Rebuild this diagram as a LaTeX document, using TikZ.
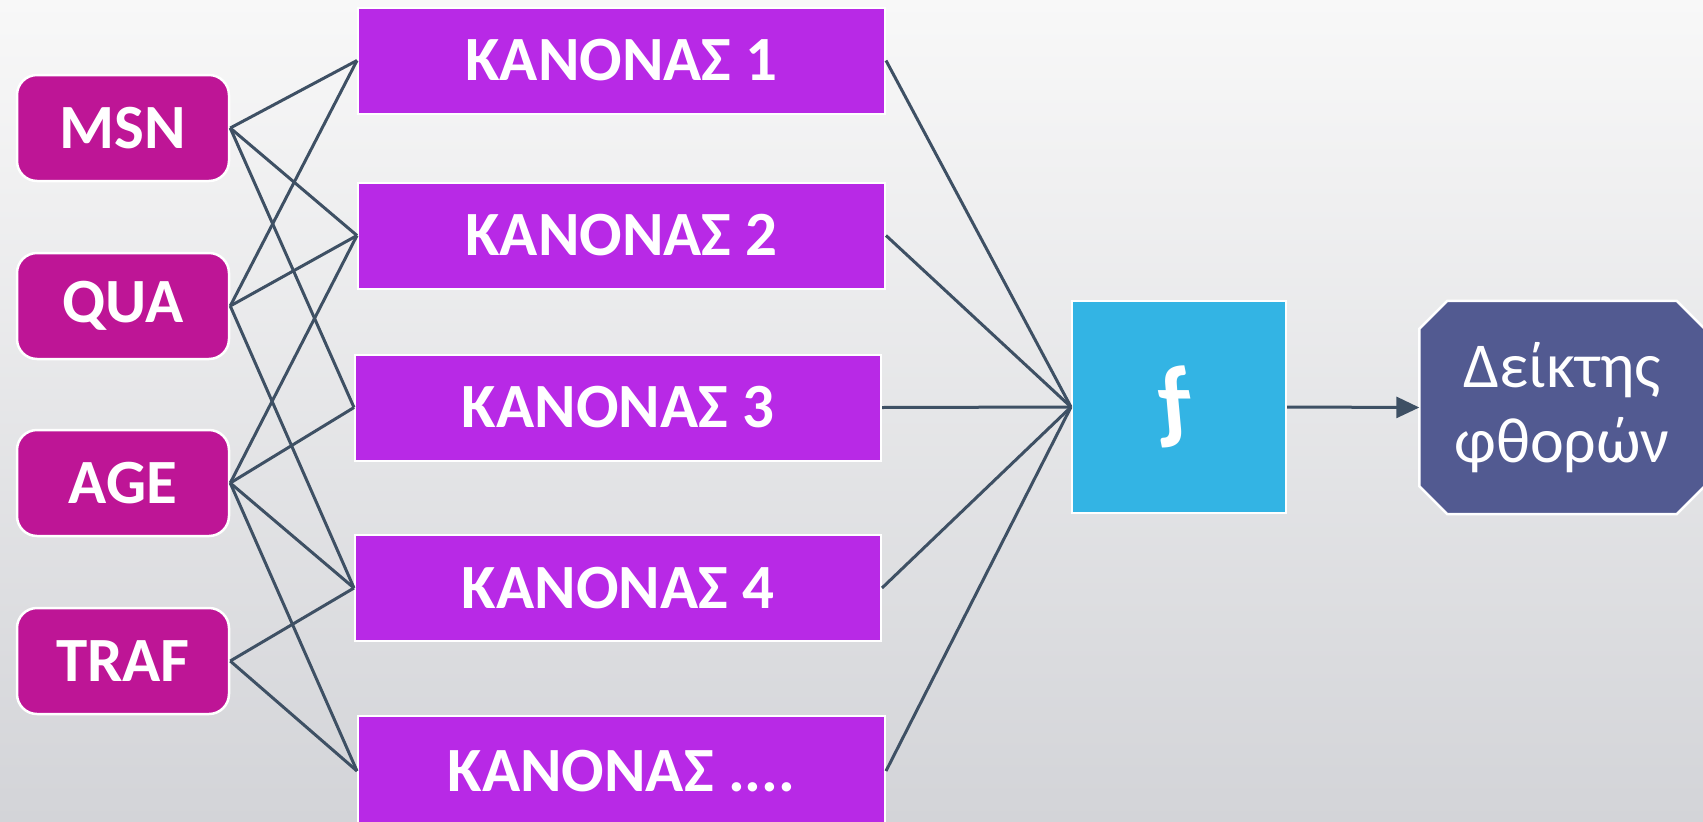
\documentclass[tikz,border=0pt]{standalone}
\usepackage{fontspec}
\setmainfont{Carlito}
\newfontfamily\hookf[FakeSlant=-0.2]{Carlito Bold}
\usetikzlibrary{arrows.meta}
\definecolor{bgtop}{RGB}{248,248,248}
\definecolor{bgbot}{RGB}{211,212,216}
\definecolor{inmag}{RGB}{190,21,150}
\definecolor{rulepurple}{RGB}{184,41,230}
\definecolor{fblue}{RGB}{51,180,228}
\definecolor{octblue}{RGB}{82,90,145}
\definecolor{wire}{RGB}{62,80,100}
\tikzset{
  inbox/.style={draw=white, line width=2.5pt, fill=inmag, rounded corners=20pt,
    minimum width=212pt, minimum height=106pt, inner sep=0pt, text=white,
    font=\bfseries\fontsize{63}{70}\selectfont},
  rulebox/.style={draw=white, line width=2pt, fill=rulepurple,
    minimum height=106pt, inner sep=0pt, text=white,
    font=\bfseries\fontsize{63}{70}\selectfont},
  fbox/.style={draw=white, line width=2pt, fill=fblue, minimum width=214pt,
    minimum height=212pt, inner sep=0pt, text=white},
  outbox/.style={minimum width=285pt, minimum height=213pt, inner sep=0pt},
  octshape/.style={draw=white, line width=2.5pt, fill=octblue},
  wireline/.style={draw=wire, line width=3pt},
}
\begin{document}
\begin{tikzpicture}[x=1pt,y=-1pt]
\useasboundingbox (0,0) rectangle (1703,822);
\shade[top color=bgtop, bottom color=bgbot] (0,0) rectangle (1703,822);

% input boxes
\node[inbox] (msn)  at (123,128) {MSN};
\node[inbox] (qua)  at (123,306) {QUA};
\node[inbox] (age)  at (123,483) {AGE};
\node[inbox] (traf) at (123,661) {TRAF};

% rule boxes
\node[rulebox, minimum width=527pt] (k1) at (621.5,60.5) {ΚΑΝΟΝΑΣ 1};
\node[rulebox, minimum width=527pt] (k2) at (621.5,235.5) {ΚΑΝΟΝΑΣ 2};
\node[rulebox, minimum width=526pt] (k3) at (618,407.5) {ΚΑΝΟΝΑΣ 3};
\node[rulebox, minimum width=526pt] (k4) at (618,588) {ΚΑΝΟΝΑΣ 4};
\node[rulebox, minimum width=527pt, minimum height=110pt] (k5) at (621.5,771) {ΚΑΝΟΝΑΣ ....};

% f box
\node[fbox] (f) at (1179,407) {\hookf\fontsize{96}{96}\selectfont ƒ};

% output octagon
\node[outbox] (out) at (1562,407.5) {};
\path[octshape] ([xshift=28pt]out.north west) -- ([xshift=-28pt]out.north east)
  -- ([yshift=-28pt]out.north east) -- ([yshift=28pt]out.south east)
  -- ([xshift=-28pt]out.south east) -- ([xshift=28pt]out.south west)
  -- ([yshift=28pt]out.south west) -- ([yshift=-28pt]out.north west) -- cycle;
\node[text=white, align=center, font=\fontsize{64}{75}\selectfont] (outtext) at (out.center) {Δείκτης\\φθορών};

% wires: inputs to rules
\draw[wireline] (msn.east) -- (k1.west);
\draw[wireline] (msn.east) -- (k2.west);
\draw[wireline] (msn.east) -- (k3.west);
\draw[wireline] (qua.east) -- (k1.west);
\draw[wireline] (qua.east) -- (k2.west);
\draw[wireline] (qua.east) -- (k4.west);
\draw[wireline] (age.east) -- (k2.west);
\draw[wireline] (age.east) -- (k3.west);
\draw[wireline] (age.east) -- (k4.west);
\draw[wireline] (age.east) -- (k5.west);
\draw[wireline] (traf.east) -- (k4.west);
\draw[wireline] (traf.east) -- (k5.west);

% wires: rules to f
\foreach \k in {k1,k2,k3,k4,k5} {\draw[wireline] (\k.east) -- (f.west);}

% arrow to output
\draw[wireline, -{Triangle[length=23pt,width=21pt]}] (f.east) -- (out.west);
\end{tikzpicture}
\end{document}
